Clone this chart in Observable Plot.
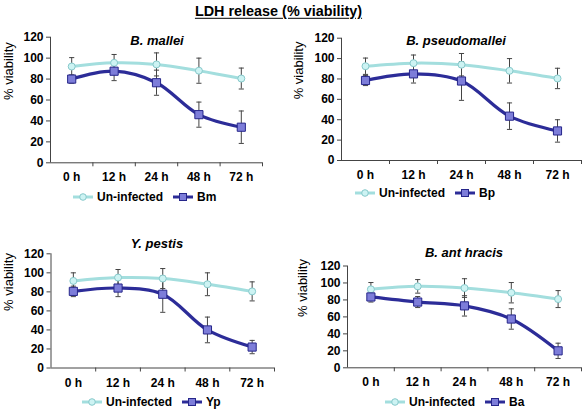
<!DOCTYPE html>
<html><head><meta charset="utf-8">
<script src="https://cdn.jsdelivr.net/npm/d3@7"></script>
<script src="https://cdn.jsdelivr.net/npm/@observablehq/plot@0.6"></script>
<style>
body{margin:0;background:#fff;}
#wrap{position:relative;width:585px;height:411px;overflow:hidden;font-family:"Liberation Sans",Arial,sans-serif;color:#000;background:#fff;}
.t{position:absolute;white-space:nowrap;transform:translate(-50%,-50%);line-height:1;}
.ptitle{font-weight:bold;font-style:italic;font-size:13px;}
.main{font-weight:bold;font-size:14.4px;text-decoration:underline;text-underline-offset:2px;}
.leg{position:absolute;display:flex;align-items:center;font-weight:bold;font-size:12px;white-space:nowrap;height:14px;}
.leg svg{display:block;margin-right:4px;}
.leg span{margin-right:10px;}
</style>
</head><body>
<div id="wrap"></div>
<script>
// ---- data ----
const times = ["0 h", "12 h", "24 h", "48 h", "72 h"];
const yTicks = [0, 20, 40, 60, 80, 100, 120];
const mainTitle = "LDH release (% viability)";
const yLabel = "% viability";
const uninfName = "Un-infected";

// B. mallei
const bmUninf = [92, 95.5, 94, 88, 80.5];
const bmUninfErr = [8.5, 8, 11, 12, 10];
const bmInf = [80, 87.5, 76.5, 46, 34];
const bmInfErr = [4, 9, 12, 12, 15.5];

// B. pseudomallei
const bpUninf = [92.5, 95.5, 94, 88, 80.5];
const bpUninfErr = [8, 8, 11, 12, 10];
const bpInf = [78.5, 85, 78, 43.5, 29];
const bpInfErr = [5, 9, 19, 13, 11];

// Y. pestis
const ypUninf = [91.5, 95, 94, 88, 80.5];
const ypUninfErr = [8.5, 8.5, 10.5, 12, 10];
const ypInf = [80.5, 84, 77.5, 40, 22];
const ypInfErr = [5.5, 9, 19, 13.5, 7];

// B. anthracis
const baUninf = [92.5, 96, 94, 88.5, 81];
const baUninfErr = [8, 8, 11, 12, 10];
const baInf = [83.5, 77.5, 73, 57.5, 20];
const baInfErr = [6, 6.5, 12, 12, 9];

// ---- styles ----
const W = 585, H = 411;
const cyan = "#a3dede", cyanFill = "#cdf3f3", cyanStroke = "#87c9cb";
const navy = "#2c2c98", sqFill = "#7d7dd9", sqStroke = "#26268a";
const axisColor = "#444", errColor = "#444";

const panels = [
  {title: "B. mallei", tx: 157, ty: 40, infName: "Bm", u: bmUninf, ue: bmUninfErr, v: bmInf, ve: bmInfErr,
   box: {l: 50, r: 262, t: 36.7, b: 162.3}, labDx: -42, leg: {x: 73, y: 197}},
  {title: "B. pseudomallei", tx: 456, ty: 40, infName: "Bp", u: bpUninf, ue: bpUninfErr, v: bpInf, ve: bpInfErr,
   box: {l: 341, r: 581, t: 37.7, b: 160}, labDx: -43, leg: {x: 355, y: 193}},
  {title: "Y. pestis", tx: 157, ty: 243, infName: "Yp", u: ypUninf, ue: ypUninfErr, v: ypInf, ve: ypInfErr,
   box: {l: 50.5, r: 274, t: 253.3, b: 367.5}, labDx: -42, leg: {x: 82, y: 401.5}},
  {title: "B. ant hracis", tx: 464, ty: 251.5, infName: "Ba", u: baUninf, ue: baUninfErr, v: baInf, ve: baInfErr,
   box: {l: 347, r: 581, t: 265.5, b: 367.3}, labDx: -45, leg: {x: 385, y: 401.5}}
];

const capSymbol = {draw(ctx, size) { const w = Math.sqrt(size); ctx.moveTo(-w / 2, 0); ctx.lineTo(w / 2, 0); }};

const wrap = document.getElementById("wrap");

function addText(cls, txt, x, y) {
  const d = document.createElement("div");
  d.className = "t " + cls;
  d.textContent = txt;
  d.style.left = x + "px";
  d.style.top = y + "px";
  wrap.appendChild(d);
}

function swatch(kind) {
  const ns = "http://www.w3.org/2000/svg";
  const s = document.createElementNS(ns, "svg");
  s.setAttribute("width", 20); s.setAttribute("height", 10);
  const l = document.createElementNS(ns, "line");
  l.setAttribute("x1", 0); l.setAttribute("x2", 20); l.setAttribute("y1", 5); l.setAttribute("y2", 5);
  l.setAttribute("stroke", kind === "u" ? cyan : navy); l.setAttribute("stroke-width", 3);
  s.appendChild(l);
  if (kind === "u") {
    const c = document.createElementNS(ns, "circle");
    c.setAttribute("cx", 10); c.setAttribute("cy", 5); c.setAttribute("r", 3.3);
    c.setAttribute("fill", cyanFill); c.setAttribute("stroke", cyanStroke);
    s.appendChild(c);
  } else {
    const r = document.createElementNS(ns, "rect");
    r.setAttribute("x", 6.5); r.setAttribute("y", 1.5); r.setAttribute("width", 7); r.setAttribute("height", 7);
    r.setAttribute("fill", sqFill); r.setAttribute("stroke", sqStroke);
    s.appendChild(r);
  }
  return s;
}

function addLegend(p) {
  const d = document.createElement("div");
  d.className = "leg";
  d.style.left = p.leg.x + "px";
  d.style.top = (p.leg.y - 7) + "px";
  d.appendChild(swatch("u"));
  const s1 = document.createElement("span"); s1.textContent = uninfName; d.appendChild(s1);
  d.appendChild(swatch("i"));
  const s2 = document.createElement("span"); s2.textContent = p.infName; d.appendChild(s2);
  wrap.appendChild(d);
}

addText("main", mainTitle, 278.5, 10.5);

const xDomain = [-0.5, times.length - 0.5];
const centers = times.map((_, i) => i);
const bounds = times.map((_, i) => i + 0.5);

for (const p of panels) {
  const rowsU = times.map((t, i) => ({i, v: p.u[i], e: p.ue[i]}));
  const rowsI = times.map((t, i) => ({i, v: p.v[i], e: p.ve[i]}));
  const errMarks = rows => [
    Plot.ruleX(rows, {x: "i", y1: d => d.v - d.e, y2: d => d.v + d.e, stroke: errColor, strokeWidth: 1}),
    Plot.dot(rows, {x: "i", y: d => d.v + d.e, symbol: capSymbol, r: 2.9, fill: "none", stroke: errColor, strokeWidth: 1}),
    Plot.dot(rows, {x: "i", y: d => d.v - d.e, symbol: capSymbol, r: 2.9, fill: "none", stroke: errColor, strokeWidth: 1})
  ];
  const svg = Plot.plot({
    width: W, height: H,
    marginLeft: p.box.l, marginRight: W - p.box.r, marginTop: p.box.t, marginBottom: H - p.box.b,
    style: {position: "absolute", left: "0px", top: "0px", background: "transparent",
            fontFamily: "'Liberation Sans', Arial, sans-serif", fontSize: "12px", fontWeight: "bold", color: "#000"},
    x: {type: "linear", domain: xDomain, axis: null},
    y: {domain: [yTicks[0], yTicks[yTicks.length - 1]], axis: null},
    marks: [
      Plot.axisY({ticks: yTicks, tickSize: 4, tickPadding: 3, stroke: axisColor, label: null}),
      Plot.axisX({ticks: bounds, tickSize: 4, tickFormat: () => "", stroke: axisColor, label: null}),
      Plot.axisX({ticks: centers, tickSize: 0, tickPadding: 10, tickFormat: i => times[i], label: null}),
      Plot.ruleY([yTicks[0]], {stroke: axisColor, strokeWidth: 1}),
      Plot.ruleX([xDomain[0]], {stroke: axisColor, strokeWidth: 1}),
      Plot.text([yLabel], {frameAnchor: "left", dx: p.labDx, rotate: -90, fontWeight: "normal", fontSize: 13, fill: "#000"}),
      Plot.line(rowsU, {x: "i", y: "v", stroke: cyan, strokeWidth: 3, curve: "catmull-rom"}),
      Plot.line(rowsI, {x: "i", y: "v", stroke: navy, strokeWidth: 3.2, curve: "catmull-rom"}),
      ...errMarks(rowsU),
      ...errMarks(rowsI),
      Plot.dot(rowsU, {x: "i", y: "v", r: 3.5, fill: cyanFill, stroke: cyanStroke, strokeWidth: 1}),
      Plot.dot(rowsI, {x: "i", y: "v", symbol: "square", r: 4.6, fill: sqFill, stroke: sqStroke, strokeWidth: 1})
    ]
  });
  wrap.appendChild(svg);
  addText("ptitle", p.title, p.tx, p.ty);
  addLegend(p);
}
</script>
</body></html>
